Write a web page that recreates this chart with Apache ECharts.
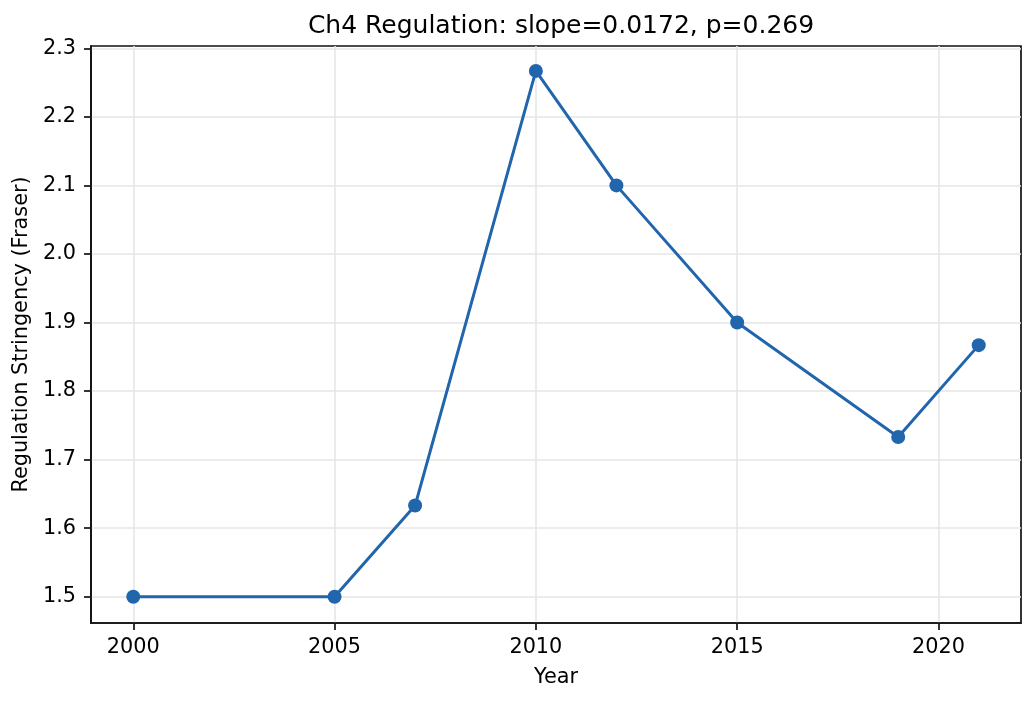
<!DOCTYPE html>
<html><head><meta charset="utf-8">
<script src="https://cdn.jsdelivr.net/npm/echarts@6/dist/echarts.min.js"></script>
<style>html,body{margin:0;padding:0;background:#fff}#c{width:1036px;height:701px}</style>
</head><body><div id="c"></div>
<script>
const years = [2000, 2005, 2007, 2010, 2012, 2015, 2019, 2021];
const values = [1.5, 1.5, 1.633, 2.267, 2.1, 1.9, 1.733, 1.867];
const xTicks = [2000, 2005, 2010, 2015, 2020];
const yTicks = [1.5, 1.6, 1.7, 1.8, 1.9, 2.0, 2.1, 2.2, 2.3];
const titleText = 'Ch4 Regulation: slope=0.0172, p=0.269';

const font = 'DejaVu Sans';
const chart = echarts.init(document.getElementById('c'), null, {renderer: 'canvas'});
chart.setOption({
  animation: false,
  backgroundColor: '#fff',
  title: {text: titleText, left: 556, top: 9, textAlign: 'center',
    textStyle: {fontFamily: font, fontSize: 25, fontWeight: 'normal', color: '#000'}},
  grid: {left: 91, right: 15, top: 46, bottom: 78, show: true, borderColor: '#111', borderWidth: 1.7},
  xAxis: {
    type: 'value', min: 1998.95, max: 2022.05,
    name: 'Year', nameLocation: 'middle', nameGap: 44,
    nameTextStyle: {fontFamily: font, fontSize: 20.8, color: '#000'},
    axisLine: {show: true, onZero: false, lineStyle: {color: '#111', width: 1.7}},
    axisTick: {show: true, length: 7, lineStyle: {color: '#111', width: 1.7}, customValues: xTicks},
    axisLabel: {fontFamily: font, fontSize: 20.8, color: '#000', margin: 14, customValues: xTicks,
      formatter: v => String(v)},
    splitLine: {show: true, lineStyle: {color: '#e6e6e6', width: 1.6}}
  },
  yAxis: {
    type: 'value', min: 1.4617, max: 2.3033,
    name: 'Regulation Stringency (Fraser)', nameLocation: 'middle', nameGap: 57,
    nameTextStyle: {fontFamily: font, fontSize: 20.8, color: '#000'},
    axisLine: {show: true, lineStyle: {color: '#111', width: 1.7}},
    axisTick: {show: true, length: 7, lineStyle: {color: '#111', width: 1.7}, customValues: yTicks},
    axisLabel: {fontFamily: font, fontSize: 20.8, color: '#000', margin: 15, customValues: yTicks,
      formatter: v => v.toFixed(1)},
    splitLine: {show: true, lineStyle: {color: '#e6e6e6', width: 1.6}}
  },
  series: [{
    type: 'line',
    data: years.map((y, i) => [y, values[i]]),
    symbol: 'circle', symbolSize: 14,
    lineStyle: {color: '#2166ac', width: 3},
    itemStyle: {color: '#2166ac'}
  }]
});
</script></body></html>
